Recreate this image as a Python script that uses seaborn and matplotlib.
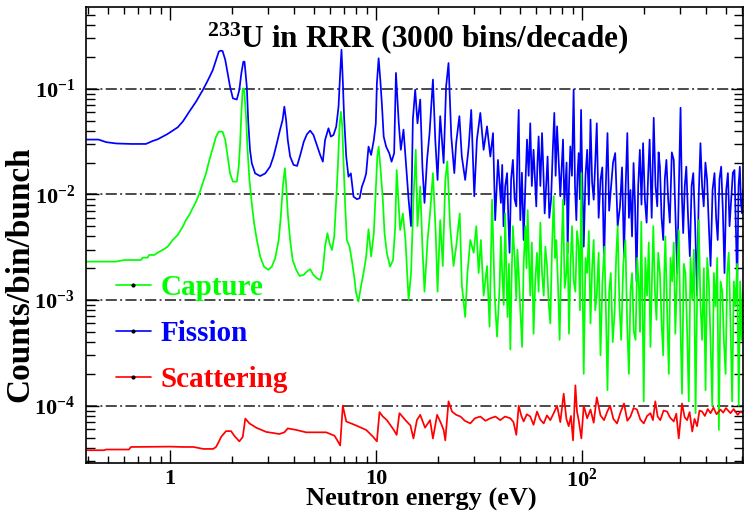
import matplotlib
matplotlib.use("Agg")
import matplotlib.pyplot as plt
import seaborn as sns
import pandas as pd
from matplotlib.lines import Line2D
from matplotlib.ticker import FixedLocator, FixedFormatter, LogLocator, NullFormatter

# ---------------- data ----------------
# (neutron energy in eV, counts/bin/bunch)
fission_points = [
    (0.391, 0.0330), (0.45, 0.0330), (0.49, 0.0312), (0.55, 0.0303), (0.65, 0.0300), (0.72, 0.0300),
    (0.764, 0.0300), (0.824, 0.0320), (0.871, 0.0332), (0.922, 0.0352), (0.974, 0.0373),
    (1.031, 0.0401), (1.09, 0.0431), (1.153, 0.0488), (1.196, 0.0543), (1.24, 0.0606),
    (1.289, 0.0676), (1.338, 0.0754), (1.388, 0.0853), (1.442, 0.097), (1.496, 0.111),
    (1.552, 0.128), (1.613, 0.150), (1.673, 0.187), (1.725, 0.224), (1.76, 0.229), (1.80, 0.227),
    (1.855, 0.187), (1.905, 0.140), (1.957, 0.104), (2.02, 0.081), (2.11, 0.079), (2.17, 0.097),
    (2.22, 0.140), (2.27, 0.180), (2.30, 0.180), (2.36, 0.104), (2.40, 0.047), (2.446, 0.0263),
    (2.495, 0.0197), (2.59, 0.0158), (2.74, 0.0149), (2.90, 0.0158), (3.06, 0.0183), (3.18, 0.0228),
    (3.30, 0.0304), (3.42, 0.0407), (3.52, 0.0506), (3.59, 0.0676), (3.66, 0.0506), (3.73, 0.0327),
    (3.83, 0.0228), (3.98, 0.0190), (4.14, 0.0186), (4.29, 0.0236), (4.46, 0.0315), (4.62, 0.0370),
    (4.79, 0.0401), (4.97, 0.0365), (5.16, 0.0293), (5.36, 0.0236), (5.52, 0.0204), (5.66, 0.0327),
    (5.88, 0.0422), (6.04, 0.0352), (6.22, 0.0365), (6.41, 0.0437), (6.58, 0.0676), (6.70, 0.140),
    (6.80, 0.234), (6.90, 0.120), (7.00, 0.0543), (7.17, 0.0228), (7.35, 0.0147), (7.55, 0.0158),
    (7.78, 0.0095), (8.09, 0.0090), (8.33, 0.0092), (8.54, 0.0118), (8.78, 0.0137), (8.96, 0.0158),
    (9.20, 0.0283), (9.47, 0.0236), (9.76, 0.0327), (9.98, 0.047), (10.1, 0.112), (10.3, 0.194),
    (10.5, 0.120), (10.7, 0.0676), (10.9, 0.0352), (11.2, 0.0283), (11.6, 0.0245), (11.9, 0.0204),
    (12.25, 0.0245), (12.5, 0.141), (12.9, 0.047), (13.2, 0.0264), (13.6, 0.041), (13.9, 0.0228),
    (14.4, 0.0089), (14.8, 0.005), (15.1, 0.051), (15.5, 0.098), (15.9, 0.047), (16.4, 0.079),
    (16.8, 0.0183), (17.2, 0.0083), (17.7, 0.0212), (18.2, 0.038), (18.9, 0.122), (19.4, 0.033),
    (19.9, 0.0137), (20.5, 0.055), (21.3, 0.0198), (21.9, 0.105), (22.5, 0.175), (23.2, 0.0353),
    (24.0, 0.0159), (24.5, 0.0305), (25.4, 0.055), (26.1, 0.0228), (27.1, 0.0137), (28.2, 0.0284),
    (29.0, 0.063), (30.0, 0.0096), (30.9, 0.033), (32.1, 0.059), (33.3, 0.0264), (34.6, 0.044),
    (35.9, 0.0228), (37.0, 0.038), (37.9, 0.0057), (39.1, 0.0212),
    (40.4, 0.0083), (41.0, 0.019), (41.6, 0.005), (42.4, 0.012), (43.3, 0.0159), (43.9, 0.006),
    (44.5, 0.0028), (45.3, 0.014), (46.2, 0.0212), (47.1, 0.009), (48.0, 0.0077), (48.6, 0.025),
    (49.3, 0.063), (49.8, 0.012), (50.2, 0.0057), (51.1, 0.016), (52.1, 0.0037), (53.1, 0.012),
    (54.1, 0.033), (55.1, 0.015), (56.1, 0.047), (57.1, 0.012), (58.2, 0.0264), (59.1, 0.014),
    (60.0, 0.0077), (60.8, 0.02), (61.6, 0.0353), (62.8, 0.012), (64.0, 0.038), (65.0, 0.016),
    (65.9, 0.0066), (67.0, 0.012), (68.1, 0.0228), (69.4, 0.006), (70.8, 0.0089), (72.1, 0.025),
    (73.4, 0.059), (74.5, 0.015), (75.7, 0.044), (77.1, 0.02), (78.5, 0.0096), (79.7, 0.018),
    (80.9, 0.033), (82.1, 0.008), (83.3, 0.0137), (84.2, 0.02), (85.2, 0.0028), (86.5, 0.012),
    (87.8, 0.0284), (89.4, 0.015), (91.1, 0.098), (92.5, 0.012), (93.9, 0.0057), (95.1, 0.015),
    (96.4, 0.0246), (97.7, 0.009), (99.0, 0.063), (100.5, 0.012), (102, 0.0032), (104, 0.015),
    (106, 0.0264), (108, 0.008), (110, 0.051), (112, 0.013), (114, 0.0089), (116, 0.02),
    (118, 0.047), (120.5, 0.006), (123, 0.0137), (125.5, 0.018), (128, 0.0021), (130.5, 0.012),
    (133, 0.038), (135.5, 0.007), (138, 0.011), (141.5, 0.02), (145, 0.0246), (149, 0.005),
    (153, 0.0077), (156.5, 0.018), (160, 0.0026), (163, 0.012), (166, 0.038), (169, 0.006),
    (172, 0.011), (175, 0.004), (178, 0.0198), (181, 0.008), (184, 0.0015), (187.5, 0.012),
    (191, 0.0264), (194.5, 0.008), (198, 0.0305), (202, 0.009), (206, 0.0054), (209.5, 0.015),
    (213, 0.033), (218, 0.006), (223, 0.053), (227.5, 0.012), (232, 0.0077), (235.5, 0.025),
    (239, 0.0183), (243.5, 0.006), (248, 0.0037), (252.5, 0.014), (257, 0.0212), (262, 0.009),
    (267, 0.0054), (273, 0.025), (279, 0.0212), (284.5, 0.006), (290, 0.0018), (295.5, 0.012),
    (301, 0.066), (305.5, 0.01), (310, 0.0043), (315.5, 0.012), (321, 0.0183), (327.5, 0.006),
    (334, 0.0026), (340.5, 0.012), (347, 0.0159), (354.5, 0.005), (362, 0.0011), (369, 0.01),
    (376, 0.0305), (383, 0.012), (390, 0.0077), (397.5, 0.02), (405, 0.0137), (413, 0.005),
    (421, 0.0021), (430.5, 0.011), (440, 0.0159), (448, 0.006), (456, 0.0037), (465, 0.014),
    (474, 0.0183), (483, 0.007), (492, 0.0018), (501.5, 0.011), (511, 0.0159), (520.5, 0.005),
    (530, 0.0089), (540, 0.016), (550, 0.017), (558.5, 0.005), (567, 0.0013), (575.5, 0.012),
    (584, 0.0183), (592, 0.008), (600, 0.0066), (605, 0.011)]

capture_points = [
    (0.391, 0.00231), (0.546, 0.00231), (0.60, 0.00239), (0.723, 0.00239), (0.737, 0.00252),
    (0.779, 0.00252), (0.793, 0.00267), (0.839, 0.00267), (0.871, 0.00281), (0.922, 0.00298),
    (0.974, 0.0032), (1.031, 0.0037), (1.09, 0.00413), (1.153, 0.00494), (1.196, 0.00573),
    (1.24, 0.00638), (1.289, 0.00738), (1.338, 0.00853), (1.388, 0.0102), (1.442, 0.0127),
    (1.496, 0.0158), (1.552, 0.0211), (1.613, 0.0273), (1.673, 0.0352), (1.725, 0.0392),
    (1.80, 0.0392), (1.855, 0.0327), (1.905, 0.0228), (1.957, 0.0158), (2.02, 0.0132),
    (2.11, 0.0132), (2.156, 0.0183), (2.19, 0.0304), (2.22, 0.0585), (2.255, 0.100), (2.29, 0.100),
    (2.34, 0.0543), (2.38, 0.0263), (2.43, 0.0137), (2.495, 0.0082), (2.56, 0.00532), (2.64, 0.0037),
    (2.74, 0.00258), (2.86, 0.00207), (3.00, 0.00193), (3.12, 0.00207), (3.24, 0.00248),
    (3.37, 0.0037), (3.45, 0.00615), (3.53, 0.0118), (3.61, 0.0177), (3.66, 0.0127), (3.73, 0.00663),
    (3.83, 0.0037), (3.94, 0.00239), (4.10, 0.00193), (4.26, 0.00169), (4.46, 0.00173),
    (4.62, 0.00186), (4.79, 0.00196), (4.97, 0.00173), (5.16, 0.00161), (5.36, 0.00155),
    (5.52, 0.00193), (5.66, 0.0032), (5.81, 0.00429), (5.95, 0.00345), (6.11, 0.00298),
    (6.27, 0.00398), (6.41, 0.00885), (6.53, 0.0183), (6.65, 0.0437), (6.76, 0.0606), (6.86, 0.0437),
    (6.95, 0.0211), (7.09, 0.00765), (7.22, 0.0037), (7.44, 0.0032), (7.63, 0.00239), (7.84, 0.00166),
    (8.01, 0.00116), (8.22, 0.00097), (8.45, 0.00134), (8.70, 0.0018), (8.96, 0.00258),
    (9.20, 0.00468), (9.47, 0.00258), (9.76, 0.00429), (9.98, 0.011), (10.15, 0.0228), (10.3, 0.0283),
    (10.5, 0.0183), (10.8, 0.00885), (11.0, 0.00429), (11.3, 0.00277), (11.7, 0.00207),
    (12.1, 0.00239), (12.4, 0.00494), (12.6, 0.017), (13.1, 0.0046), (13.5, 0.0066), (13.9, 0.0037),
    (14.4, 0.001), (14.8, 0.0018), (15.2, 0.0089), (15.6, 0.0264), (15.9, 0.005), (16.4, 0.0119),
    (16.8, 0.0032), (17.2, 0.0012), (17.8, 0.0037), (18.3, 0.0066), (18.9, 0.0159), (19.5, 0.0043),
    (19.9, 0.0012), (20.5, 0.0057), (21.1, 0.0021), (21.7, 0.0137), (22.2, 0.0205), (22.9, 0.005),
    (23.8, 0.0021), (24.5, 0.0032), (25.5, 0.0066), (26.1, 0.0014), (27.1, 0.00069), (27.8, 0.0018),
    (28.7, 0.0037), (29.8, 0.0028), (30.7, 0.005), (31.5, 0.0018), (32.3, 0.0037), (33.3, 0.0011),
    (34.6, 0.0021), (35.6, 0.00056), (36.6, 0.0089), (37.7, 0.0011), (38.7, 0.00045), (39.8, 0.0013),
    (40.4, 0.004), (41.0, 0.0018), (41.7, 0.0009), (42.4, 0.0066), (42.9, 0.002), (43.5, 0.00069),
    (44.2, 0.0022), (44.9, 0.00034), (45.5, 0.0015), (46.2, 0.005), (47.1, 0.0025), (48.0, 0.001),
    (48.6, 0.003), (49.3, 0.0018), (50.2, 0.0008), (51.2, 0.00036), (52.1, 0.0022), (53.1, 0.005),
    (53.8, 0.002), (54.5, 0.0071), (55.3, 0.0025), (56.1, 0.0011), (57.1, 0.0035), (58.2, 0.00048),
    (59.3, 0.0015), (60.5, 0.0028), (61.6, 0.0012), (62.8, 0.0054), (64.0, 0.0018), (65.2, 0.0011),
    (66.4, 0.0032), (67.7, 0.0021), (69.0, 0.0009), (70.2, 0.0006), (71.5, 0.003), (72.9, 0.0096),
    (74.0, 0.0025), (75.1, 0.0037), (76.5, 0.0014), (77.9, 0.00042), (79.4, 0.0025), (80.9, 0.0089),
    (82.4, 0.0013), (84.0, 0.0018), (85.2, 0.0035), (86.5, 0.00048), (88.0, 0.0022), (89.5, 0.005),
    (91.2, 0.0015), (92.9, 0.0012), (94.6, 0.0045), (96.4, 0.0032), (97.8, 0.0008), (99.3, 0.0159),
    (100.6, 0.0015), (102, 0.0002), (104, 0.0025), (106, 0.0018), (108, 0.0045), (110, 0.0006),
    (112, 0.002), (114, 0.0037), (116, 0.0008), (118, 0.0011), (120.5, 0.0028), (123, 0.0003),
    (125.7, 0.0015), (128.5, 0.0032), (130.7, 0.0008), (133, 0.00014), (135.5, 0.0012),
    (138, 0.0018), (141, 0.0004), (144, 0.00075), (146.5, 0.0025), (149, 0.005), (152, 0.0009),
    (155, 0.00042), (158.7, 0.0022), (162.5, 0.0037), (165.7, 0.0006), (169, 0.0002), (172, 0.0012),
    (175, 0.0018), (178.5, 0.0005), (182, 0.00042), (185.5, 0.0025), (189, 0.0013), (191.5, 0.0005),
    (194, 0.0055), (196.7, 0.001), (199.5, 0.00011), (203, 0.0025), (207, 0.0011), (211, 0.0035),
    (215, 0.00036), (218.5, 0.0015), (222, 0.005), (226, 0.0012), (230, 0.00065), (234.5, 0.0028),
    (239, 0.0018), (243.5, 0.0006), (248, 0.0003), (251, 0.0018), (254, 0.004), (259, 0.0008),
    (264, 0.0002), (269, 0.0025), (274, 0.0015), (279, 0.0035), (284, 0.00048), (289.5, 0.0018),
    (295, 0.0046), (300.5, 0.0006), (306, 0.00013), (312, 0.0022), (318, 0.0018), (324, 0.0005),
    (330, 0.00011), (336.5, 0.0025), (343, 0.001), (349.5, 0.003), (356, 8.5e-5), (362.5, 0.0012),
    (369, 0.0057), (376, 0.0009), (383, 0.00042), (390.5, 0.002), (398, 0.00014), (405.5, 0.0025),
    (413, 0.0015), (421, 0.0004), (429, 1.0e-4), (437, 0.0018), (445, 0.00087), (453.5, 0.0025),
    (462, 5.9e-5), (471, 0.0015), (480, 0.0012), (489, 0.0004), (498, 0.0002), (507, 0.0018),
    (516, 0.0028), (526, 0.0006), (536, 0.00011), (546, 0.0015), (556, 0.00087), (566.5, 0.0022),
    (577, 1.0e-4), (586, 0.0015), (595, 0.00042), (603, 0.0012)]

scattering_points = [
    (0.391, 3.79e-5), (0.478, 3.79e-5), (0.489, 3.85e-5), (0.632, 3.85e-5), (0.646, 4.07e-5),
    (0.90, 4.1e-5), (1.0, 4.1e-5), (1.15, 4.07e-5), (1.30, 4.07e-5), (1.45, 3.9e-5), (1.62, 3.9e-5),
    (1.673, 4.07e-5), (1.72, 4.5e-5), (1.77, 5.06e-5), (1.87, 5.75e-5), (1.98, 5.75e-5),
    (2.05, 5.2e-5), (2.17, 4.6e-5), (2.255, 5.06e-5), (2.32, 7.56e-5), (2.43, 6.8e-5),
    (2.62, 6.2e-5), (2.93, 5.65e-5), (3.40, 5.4e-5), (3.59, 5.6e-5), (3.73, 6.1e-5), (4.10, 5.9e-5),
    (4.58, 5.6e-5), (5.73, 5.6e-5), (6.29, 5.2e-5), (6.53, 4.6e-5), (6.70, 4.2e-5), (6.90, 1.0e-4),
    (7.17, 7.1e-5), (8.01, 6.5e-5), (8.96, 5.9e-5), (9.66, 5.1e-5), (10.1, 4.6e-5), (10.4, 8.7e-5),
    (10.8, 7.9e-5), (11.3, 7.3e-5), (12.2, 5.9e-5), (12.6, 5.3e-5), (13.0, 8.5e-5), (13.9, 7.3e-5),
    (14.7, 6.5e-5), (15.2, 4.9e-5), (15.8, 7.3e-5), (16.4, 8.2e-5), (17.3, 6.2e-5), (18.3, 7.3e-5),
    (18.9, 4.9e-5), (19.8, 8.2e-5), (20.7, 6.8e-5), (21.3, 5.9e-5), (21.7, 4.7e-5), (22.5, 1.1e-4),
    (23.4, 8.8e-5), (24.5, 8.2e-5), (25.7, 7.9e-5), (27.0, 7.2e-5), (28.7, 6.8e-5), (30.2, 7.6e-5),
    (32.1, 7.9e-5), (34.0, 7.2e-5), (35.9, 7.6e-5), (38.0, 7.9e-5), (40.1, 7.3e-5), (42.3, 7.9e-5),
    (44.9, 7.6e-5), (46.5, 7.0e-5), (48.0, 5.3e-5), (49.3, 1.0e-4), (50.8, 8.0e-5), (52.1, 7.1e-5),
    (54.0, 8.3e-5), (56.1, 7.9e-5), (58.2, 6.6e-5), (60.5, 8.8e-5), (62.7, 7.4e-5), (65.2, 6.8e-5),
    (67.6, 8.1e-5), (70.2, 7.3e-5), (72.9, 8.5e-5), (75.7, 1.0e-4), (78.5, 7.0e-5), (81.5, 1.3e-4),
    (84.0, 7.5e-5), (86.2, 6.4e-5), (88.4, 8.0e-5), (90.5, 4.7e-5), (92.9, 1.56e-4), (94.6, 8.8e-5),
    (96.4, 7.3e-5), (99.3, 4.9e-5), (102, 1.0e-4), (106, 7.6e-5), (110, 9.2e-5), (114, 6.9e-5),
    (118, 1.2e-4), (123, 8.1e-5), (128, 7.3e-5), (133, 8.9e-5), (137, 1.0e-4), (142, 7.5e-5),
    (148, 6.8e-5), (154, 8.7e-5), (160, 1.05e-4), (166, 7.2e-5), (172, 7.9e-5), (178, 9.5e-5),
    (185, 9.2e-5), (192, 7.4e-5), (199.5, 6.8e-5), (207, 8.0e-5), (215, 8.5e-5), (221, 7.3e-5),
    (227, 1.1e-4), (233, 7.9e-5), (240, 7.3e-5), (249, 9.0e-5), (259, 8.8e-5), (268, 7.7e-5),
    (279, 7.1e-5), (287, 8.4e-5), (295, 4.9e-5), (306, 1.05e-4), (315, 7.8e-5), (324, 7.3e-5),
    (333, 8.7e-5), (343, 5.7e-5), (352, 7.5e-5), (362, 6.4e-5), (372, 9.0e-5), (383, 8.8e-5),
    (395, 8.0e-5), (408, 9.3e-5), (421, 8.5e-5), (435, 9.6e-5), (450, 8.3e-5), (470, 9.2e-5),
    (485, 8.6e-5), (500, 9.5e-5), (526, 8.5e-5), (545, 9.3e-5), (570, 8.2e-5), (589, 8.8e-5),
    (605, 8.5e-5)]

series_names = ["Fission", "Capture", "Scattering"]          # drawing order
series_colors = {"Fission": "#0000ff", "Capture": "#00ff00", "Scattering": "#ff0000"}
legend_order = ["Capture", "Fission", "Scattering"]

x_tick_values = [1, 10, 100]
x_tick_labels = ["1", "10", r"$10^{2}$"]
y_tick_values = [1e-4, 1e-3, 1e-2, 1e-1]
y_tick_labels = [r"$10^{-4}$", r"$10^{-3}$", r"$10^{-2}$", r"$10^{-1}$"]

title_text = r"$^{233}$U in RRR (3000 bins/decade)"
x_label = "Neutron energy (eV)"
y_label = "Counts/bin/bunch"

# ---------------- style ----------------
sns.set_theme(style="ticks")
plt.rcParams["font.family"] = ["Liberation Serif", "DejaVu Serif"]
plt.rcParams["font.weight"] = "bold"
plt.rcParams["mathtext.fontset"] = "custom"
plt.rcParams["mathtext.rm"] = "Liberation Serif:bold"
plt.rcParams["mathtext.it"] = "Liberation Serif:bold"
plt.rcParams["mathtext.bf"] = "Liberation Serif:bold"
plt.rcParams["lines.scale_dashes"] = False

frames = []
for name, pts in [("Fission", fission_points), ("Capture", capture_points),
                  ("Scattering", scattering_points)]:
    frames.append(pd.DataFrame({"energy": [p[0] for p in pts],
                                "counts": [p[1] for p in pts],
                                "reaction": name}))
data = pd.concat(frames, ignore_index=True)

fig = plt.figure(figsize=(7.55, 5.16), dpi=100)
fig.patch.set_facecolor("white")
ax = fig.add_axes([86 / 755, 53 / 516, 657 / 755, 456 / 516])
ax.set_facecolor("white")
ax.set_xscale("log")
ax.set_yscale("log")

for name in series_names:
    sub = data[data["reaction"] == name]
    sns.lineplot(data=sub, x="energy", y="counts", ax=ax, color=series_colors[name],
                 linewidth=1.25, estimator=None, sort=True, legend=False)

ax.set_xlim(0.391, 605)
ax.set_ylim(2.87e-5, 0.593)

# grid: dash-dot horizontal lines at decades
ax.set_axisbelow(True)
ax.yaxis.grid(True, which="major", color="#1a1a1a", linewidth=1.1,
              linestyle=(0, (8, 2.4, 1.4, 2.4)))
ax.xaxis.grid(False)

# ticks
ax.xaxis.set_major_locator(FixedLocator(x_tick_values))
ax.xaxis.set_major_formatter(FixedFormatter(x_tick_labels))
ax.xaxis.set_minor_locator(LogLocator(base=10, subs=range(2, 10), numticks=20))
ax.xaxis.set_minor_formatter(NullFormatter())
ax.yaxis.set_major_locator(FixedLocator(y_tick_values))
ax.yaxis.set_major_formatter(FixedFormatter(y_tick_labels))
ax.yaxis.set_minor_locator(LogLocator(base=10, subs=range(2, 10), numticks=20))
ax.yaxis.set_minor_formatter(NullFormatter())

ax.tick_params(which="both", direction="in", top=True, right=True, color="black",
               width=1.0, labelsize=16, labelcolor="black")
ax.tick_params(axis="x", which="major", length=9.5, pad=4)
ax.tick_params(axis="x", which="minor", length=5)
ax.tick_params(axis="y", which="major", length=9, pad=8)
ax.tick_params(axis="y", which="minor", length=6.5)
for s in ax.spines.values():
    s.set_color("black")
    s.set_linewidth(1.2)

# labels
ax.set_xlabel(x_label, fontsize=19, fontweight="bold", color="black")
ax.xaxis.set_label_coords(0.51, -0.081)
ax.xaxis.label.set_verticalalignment("center")
ax.set_ylabel(y_label, fontsize=24, fontweight="bold", color="black")
ax.yaxis.set_label_coords(-0.1, 0.414)
ax.yaxis.label.set_verticalalignment("center")

ax.text(0.5046, 0.932, title_text, transform=ax.transAxes, ha="center", va="center",
        fontsize=22.5, fontweight="bold", color="black")

# legend
handles = [Line2D([0], [0], color=series_colors[n], linewidth=1.2, marker="o",
                  markersize=2, markerfacecolor="black", markeredgecolor="black")
           for n in legend_order]
ax.legend(handles=handles, labels=legend_order, loc="upper left",
          bbox_to_anchor=(0.045, 0.415), frameon=False,
          handlelength=1.2, handletextpad=0.33, labelspacing=0.66,
          borderpad=0, borderaxespad=0, labelcolor="linecolor",
          prop={"family": ["Liberation Serif"], "weight": "bold", "size": 21})

fig.savefig("out.png", dpi=100, facecolor="white")
